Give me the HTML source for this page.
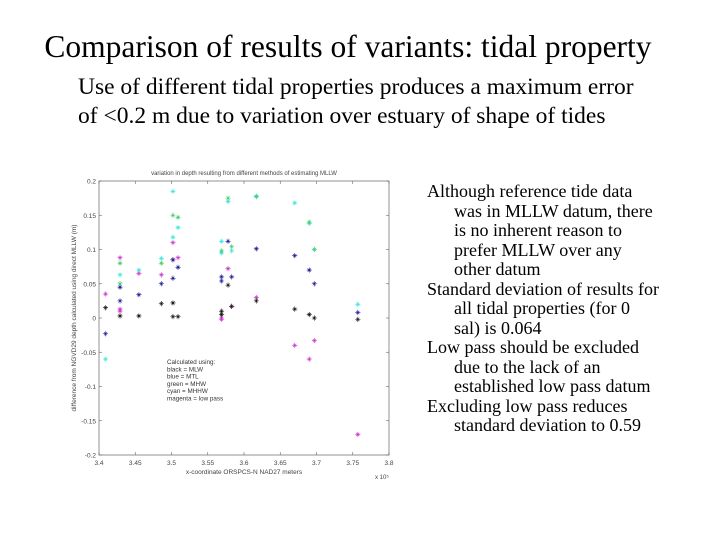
<!DOCTYPE html>
<html><head><meta charset="utf-8"><style>
body{margin:0;width:720px;height:540px;background:#fff;position:relative;font-family:"Liberation Serif",serif;overflow:hidden}
.t{position:absolute;white-space:nowrap;color:#000}
</style></head><body>
<div class="t" style="left:0;width:696px;text-align:center;top:29px;font-size:31.5px">Comparison of results of variants: tidal property</div>
<div class="t" style="left:78px;top:73px;font-size:23.5px;line-height:29px">Use of different tidal properties produces a maximum error<br>of &lt;0.2 m due to variation over estuary of shape of tides</div>
<div class="t" style="left:427px;top:182px;font-size:18px;line-height:19.5px">Although reference tide data<br>&nbsp;&nbsp;&nbsp;&nbsp;&nbsp;&nbsp;was in MLLW datum, there<br>&nbsp;&nbsp;&nbsp;&nbsp;&nbsp;&nbsp;is no inherent reason to<br>&nbsp;&nbsp;&nbsp;&nbsp;&nbsp;&nbsp;prefer MLLW over any<br>&nbsp;&nbsp;&nbsp;&nbsp;&nbsp;&nbsp;other datum<br>Standard deviation of results for<br>&nbsp;&nbsp;&nbsp;&nbsp;&nbsp;&nbsp;all tidal properties (for 0<br>&nbsp;&nbsp;&nbsp;&nbsp;&nbsp;&nbsp;sal) is 0.064<br>Low pass should be excluded<br>&nbsp;&nbsp;&nbsp;&nbsp;&nbsp;&nbsp;due to the lack of an<br>&nbsp;&nbsp;&nbsp;&nbsp;&nbsp;&nbsp;established low pass datum<br>Excluding low pass reduces<br>&nbsp;&nbsp;&nbsp;&nbsp;&nbsp;&nbsp;standard deviation to 0.59</div>
<svg id="chart" width="720" height="540" style="position:absolute;left:0;top:0" font-family="Liberation Sans, sans-serif"></svg>
<script>
const xTicks=[3.4,3.45,3.5,3.55,3.6,3.65,3.7,3.75,3.8];
const xTickLabels=["3.4","3.45","3.5","3.55","3.6","3.65","3.7","3.75","3.8"];
const yTicks=[0.2,0.15,0.1,0.05,0,-0.05,-0.1,-0.15,-0.2];
const yTickLabels=["0.2","0.15","0.1","0.05","0","-0.05","-0.1","-0.15","-0.2"];
const blackX=[3.409,3.429,3.455,3.486,3.502,3.502,3.509,3.569,3.569,3.578,3.583,3.617,3.67,3.69,3.697,3.757];
const blackY=[0.015,0.003,0.003,0.021,0.002,0.022,0.002,0.01,0.005,0.048,0.017,0.025,0.013,0.005,0.0,-0.002];
const blueX=[3.409,3.429,3.429,3.455,3.486,3.502,3.502,3.509,3.569,3.569,3.578,3.583,3.617,3.67,3.69,3.697,3.757];
const blueY=[-0.023,0.025,0.045,0.034,0.05,0.058,0.085,0.074,0.06,0.054,0.112,0.06,0.101,0.091,0.07,0.05,0.008];
const greenX=[3.429,3.429,3.486,3.502,3.509,3.569,3.578,3.583,3.617,3.69,3.697];
const greenY=[0.05,0.08,0.08,0.15,0.147,0.098,0.175,0.104,0.177,0.14,0.1];
const cyanX=[3.409,3.429,3.455,3.486,3.502,3.502,3.509,3.569,3.569,3.578,3.583,3.617,3.67,3.69,3.697,3.757];
const cyanY=[-0.06,0.063,0.07,0.087,0.185,0.118,0.132,0.112,0.095,0.17,0.098,0.178,0.168,0.138,0.1,0.02];
const magentaX=[3.409,3.429,3.429,3.429,3.455,3.486,3.502,3.502,3.509,3.569,3.569,3.578,3.583,3.617,3.67,3.69,3.697,3.757];
const magentaY=[0.035,0.013,0.088,0.01,0.065,0.063,0.11,0.085,0.088,0.0,-0.002,0.072,0.017,0.03,-0.04,-0.06,-0.033,-0.17];
const L=99,R=389,T=181,B=455;
const sx=v=>L+(v-3.4)/0.4*(R-L);
const sy=v=>T+(0.2-v)/0.4*(B-T);
const svg=document.getElementById('chart');
const NS='http://www.w3.org/2000/svg';
function mk(tag,attrs){const e=document.createElementNS(NS,tag);for(const k in attrs)e.setAttribute(k,attrs[k]);svg.appendChild(e);return e;}
let e=mk('rect',{x:L,y:T,width:R-L,height:B-T,fill:'none',stroke:'#666','stroke-width':0.7});


xTicks.forEach((v,i)=>{
 const x=sx(v);
 mk('line',{x1:x,x2:x,y1:B,y2:B-3,stroke:'#666','stroke-width':0.6});
 mk('line',{x1:x,x2:x,y1:T,y2:T+3,stroke:'#666','stroke-width':0.6});
 const t=mk('text',{x:x,y:B+10,'font-size':6.5,'text-anchor':'middle',fill:'#444'});t.textContent=xTickLabels[i];
 
 
});
yTicks.forEach((v,i)=>{
 const y=sy(v);
 mk('line',{x1:L,x2:L+3,y1:y,y2:y,stroke:'#666','stroke-width':0.6});
 mk('line',{x1:R,x2:R-3,y1:y,y2:y,stroke:'#666','stroke-width':0.6});
 const t=mk('text',{x:L-3,y:y+2.5,'font-size':6.5,'text-anchor':'end',fill:'#444'});t.textContent=yTickLabels[i];
 
 
});
let tt=mk('text',{x:244,y:175,'font-size':6,'text-anchor':'middle',fill:'#444'});tt.textContent='variation in depth resulting from different methods of estimating MLLW';


tt=mk('text',{x:244,y:474,'font-size':6.5,'text-anchor':'middle',fill:'#444'});tt.textContent='x-coordinate ORSPCS-N NAD27 meters';


tt=mk('text',{x:375,y:479,'font-size':6,fill:'#444'});tt.textContent='x 10⁵';


tt=mk('text',{x:0,y:0,'font-size':6.5,'text-anchor':'middle',fill:'#444',transform:`translate(76,${(T+B)/2}) rotate(-90)`});tt.textContent='difference from NGVD29 depth calculated using direct MLLW (m)';


const legend=['Calculated using:','black = MLW','blue = MTL','green = MHW','cyan = MHHW','magenta = low pass'];
legend.forEach((s,i)=>{const t=mk('text',{x:167,y:364+i*7.3,'font-size':6.3,fill:'#333'});t.textContent=s;
 
 });
function series(xs,ys,color,name){
 xs.forEach((xv,i)=>{
  const x=sx(xv),y=sy(ys[i]),r=2.6;
  const g=document.createElementNS(NS,'g');svg.appendChild(g);
  
  
  const d=`M${x-r},${y}H${x+r}M${x},${y-r}V${y+r}M${x-r*0.6},${y-r*0.6}L${x+r*0.6},${y+r*0.6}M${x-r*0.6},${y+r*0.6}L${x+r*0.6},${y-r*0.6}`;
  const p=document.createElementNS(NS,'path');p.setAttribute('d',d);p.setAttribute('stroke',color);p.setAttribute('stroke-width',0.6);p.setAttribute('fill','none');g.appendChild(p);
 });
}
series(cyanX,cyanY,'#33e8e0','cyan');
series(greenX,greenY,'#44cc66','green');
series(magentaX,magentaY,'#cc33cc','magenta');
series(blueX,blueY,'#1a1a99','blue');
series(blackX,blackY,'#111','black');
</script>
</body></html>
